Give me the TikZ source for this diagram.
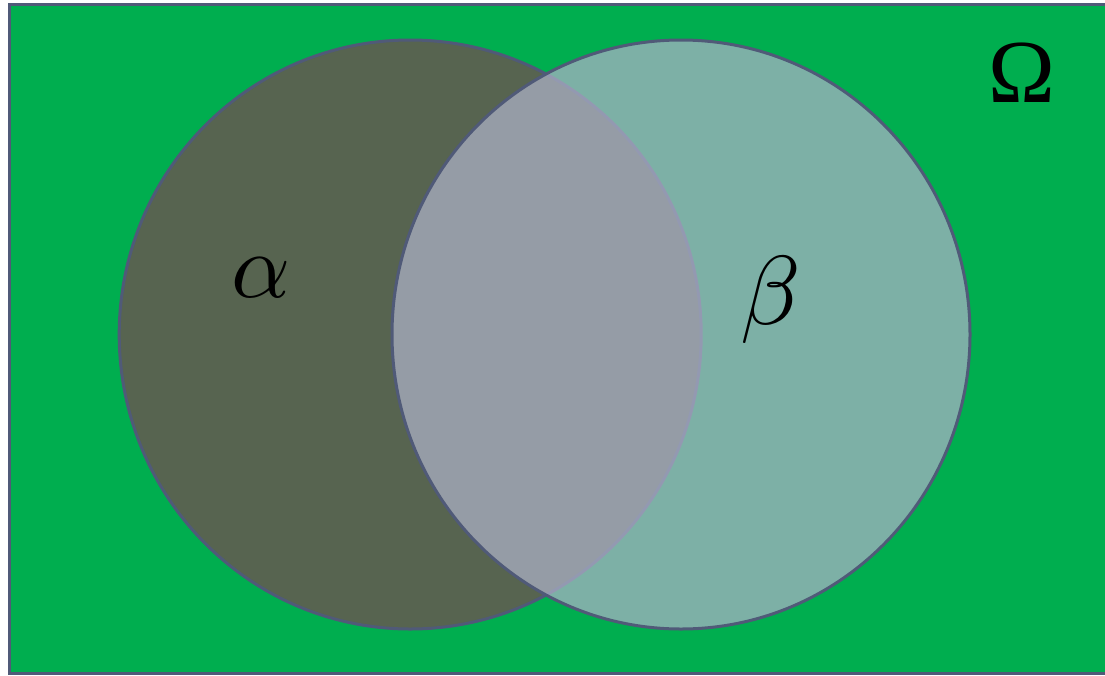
\documentclass[tikz,border=0pt]{standalone}
\usepackage{fontspec}
\newfontfamily\labfont{Liberation Serif}
\usetikzlibrary{shapes.geometric}
\definecolor{bggreen}{HTML}{00AE4F}
\definecolor{edgec}{HTML}{505A78}
\definecolor{leftfill}{HTML}{576450}
\definecolor{rightfill}{HTML}{AEB2C8}
\tikzset{
  setc/.style={draw=edgec, line width=3pt, ellipse, inner sep=0pt},
  lab/.style={anchor=base, inner sep=0pt}
}
\begin{document}
\begin{tikzpicture}[x=1pt,y=-1pt]
\useasboundingbox (0,0) rectangle (1105,675);
\clip (0,0) rectangle (1105,675);
\draw[fill=bggreen, draw=edgec, line width=3pt] (9.5,4.5) rectangle (1120,673.5);
\node[setc, fill=leftfill, minimum width=582pt, minimum height=589pt] (A) at (410.2,334.5) {};
\node[setc, fill=rightfill, fill opacity=0.72, minimum width=578pt, minimum height=589pt] (B) at (681,334.5) {};
\node[lab] (la) at (261,297) {\scalebox{9.2}{$\alpha$}};
\node[lab] (lb) at (771,324) {\scalebox{9.8}{$\beta$}};
\node[lab, font=\labfont\fontsize{90}{90}\selectfont] (lo) at (1022,102) {Ω};
\end{tikzpicture}
\end{document}
